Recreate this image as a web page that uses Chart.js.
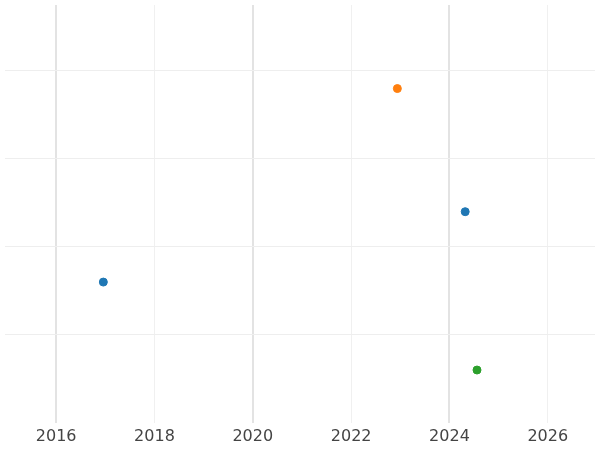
<!DOCTYPE html>
<html lang="en">
<head>
  <meta charset="UTF-8" />
  <title>Scatter</title>
  <script src="https://cdn.jsdelivr.net/npm/chart.js"></script>
  <style>
    body { margin: 0; background: #fff; }
    .wrap { width: 600px; height: 450px; }
  </style>
</head>
<body>
  <div class="wrap"><canvas id="chart"></canvas></div>
  <script>
    // Data
    const seriesColors = ["#1f77b4", "#ff7f0e", "#2ca02c"];
    const seriesX = [[2016.96, 2024.32], [2022.94], [2024.56]];
    const seriesY = [[1.6, 2.4], [3.8], [0.6]];
    const xTicks = [2016, 2018, 2020, 2022, 2024, 2026];

    const datasets = seriesX.map((xs, i) => ({
      data: xs.map((x, j) => ({ x: x, y: seriesY[i][j] })),
      backgroundColor: seriesColors[i],
      borderColor: seriesColors[i],
      pointRadius: 4,
      pointHoverRadius: 4
    }));

    new Chart(document.getElementById("chart"), {
      type: "scatter",
      data: { datasets: datasets },
      options: {
        responsive: true,
        maintainAspectRatio: false,
        animation: false,
        layout: { padding: { left: -5, right: -5, top: -5, bottom: 0 } },
        plugins: { legend: { display: false }, tooltip: { enabled: false } },
        scales: {
          x: {
            min: 2014.96,
            max: 2026.96,
            afterBuildTicks: axis => { axis.ticks = xTicks.map(v => ({ value: v })); },
            border: { display: false },
            grid: {
              color: ctx => (ctx.tick && ctx.tick.value % 4 === 0) ? "#e3e3e3" : "#f0f0f0",
              lineWidth: ctx => (ctx.tick && ctx.tick.value % 4 === 0) ? 2 : 1,
              drawTicks: false
            },
            ticks: {
              color: "#444",
              font: { family: "DejaVu Sans", size: 16 },
              padding: 4,
              callback: v => String(v)
            }
          },
          y: {
            min: 0,
            max: 4.75,
            border: { display: false },
            grid: {
              color: ctx => (ctx.tick && ctx.tick.value > 0 && Number.isInteger(ctx.tick.value)) ? "#eeeeee" : "rgba(0,0,0,0)",
              drawTicks: false
            },
            ticks: { stepSize: 1, display: false }
          }
        }
      }
    });
  </script>
</body>
</html>
